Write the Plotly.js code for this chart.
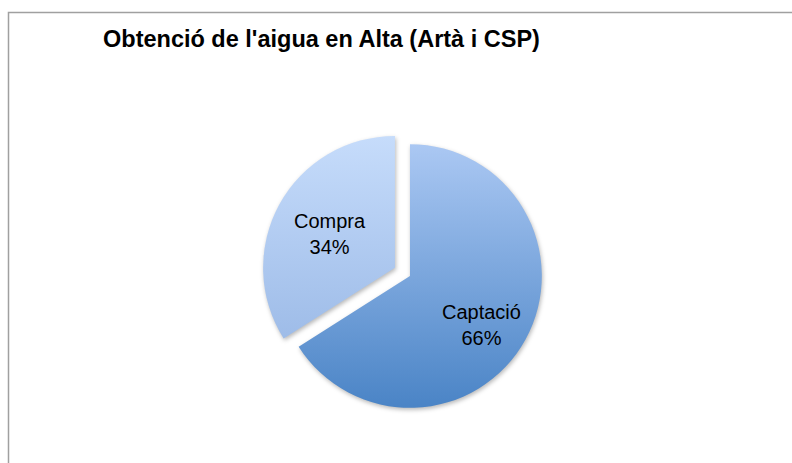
<!DOCTYPE html>
<html>
<head>
<meta charset="utf-8">
<script src="https://cdn.plot.ly/plotly-3.0.1.min.js"></script>
<style>html,body{margin:0;padding:0;background:#fff;}#chart{width:792px;height:463px;}</style>
</head>
<body>
<div id="chart"></div>
<script>
const labels = ["Captació", "Compra"];
const values = [66, 34];
const pulls = [0, 0.13];
const titleText = "Obtenció de l'aigua en Alta (Artà i CSP)";

const gradTop = ["#abc8f3", "#c6dcfb"];
const gradBottom = ["#4a84c6", "#9ebce8"];
const baseColors = ["#7aa6dc", "#b2cdf2"];

// label anchor positions (pixels) for each slice's text
const labelPx = [[481, 325], [330, 234]];

const total = values.reduce(function(a, b) { return a + b; }, 0);
const annotations = labels.map(function(l, i) {
  return {
    text: l + "<br>" + Math.round(values[i] / total * 100) + "%",
    xref: "paper", yref: "paper",
    x: labelPx[i][0] / 792, y: 1 - labelPx[i][1] / 463,
    xanchor: "center", yanchor: "middle",
    showarrow: false, align: "center",
    font: {family: "Liberation Sans, Arial, sans-serif", size: 20, color: "#000"}
  };
});

const trace = {
  type: "pie",
  labels: labels,
  values: values,
  pull: pulls,
  sort: false,
  direction: "clockwise",
  rotation: 0,
  textinfo: "none",
  marker: {colors: baseColors, line: {width: 0}},
  domain: {x: [0.3295, 0.7058], y: [0.0821, 0.7257]},
  showlegend: false,
  hoverinfo: "label+percent"
};

const layout = {
  width: 792, height: 463,
  margin: {l: 0, r: 0, t: 0, b: 0},
  paper_bgcolor: "#fff",
  plot_bgcolor: "#fff",
  showlegend: false,
  title: {
    text: "<b>" + titleText + "</b>",
    x: 103/792, xanchor: "left", xref: "paper",
    y: 1 - 39/463, yanchor: "middle", yref: "container",
    font: {family: "Liberation Sans, Arial, sans-serif", size: 23.5, color: "#000"}
  },
  annotations: annotations,
  shapes: [{
    type: "rect", xref: "paper", yref: "paper",
    x0: 8.5/792, x1: 1.05, y0: -0.05, y1: 1 - 12.5/463,
    line: {color: "#a0a0a0", width: 1.5}, fillcolor: "rgba(0,0,0,0)", layer: "below"
  }]
};

Plotly.newPlot("chart", [trace], layout, {displayModeBar: false, staticPlot: true}).then(function(gd) {
  const svg = gd.querySelector(".main-svg");
  let defs = svg.querySelector("defs");
  const ns = "http://www.w3.org/2000/svg";
  if (!defs) { defs = document.createElementNS(ns, "defs"); svg.insertBefore(defs, svg.firstChild); }
  const paths = gd.querySelectorAll(".slice path.surface");
  paths.forEach(function(p, i) {
    const id = "sliceGrad" + i;
    const lg = document.createElementNS(ns, "linearGradient");
    lg.setAttribute("id", id);
    lg.setAttribute("x1", "0"); lg.setAttribute("y1", "0");
    lg.setAttribute("x2", "0"); lg.setAttribute("y2", "1");
    const s1 = document.createElementNS(ns, "stop");
    s1.setAttribute("offset", "0"); s1.setAttribute("stop-color", gradTop[i]);
    const s2 = document.createElementNS(ns, "stop");
    s2.setAttribute("offset", "1"); s2.setAttribute("stop-color", gradBottom[i]);
    lg.appendChild(s1); lg.appendChild(s2);
    defs.appendChild(lg);
    p.style.fill = "url(#" + id + ")";
    p.style.filter = "drop-shadow(1px 2px 2px rgba(0,0,0,0.28))";
  });
});
</script>
</body>
</html>
